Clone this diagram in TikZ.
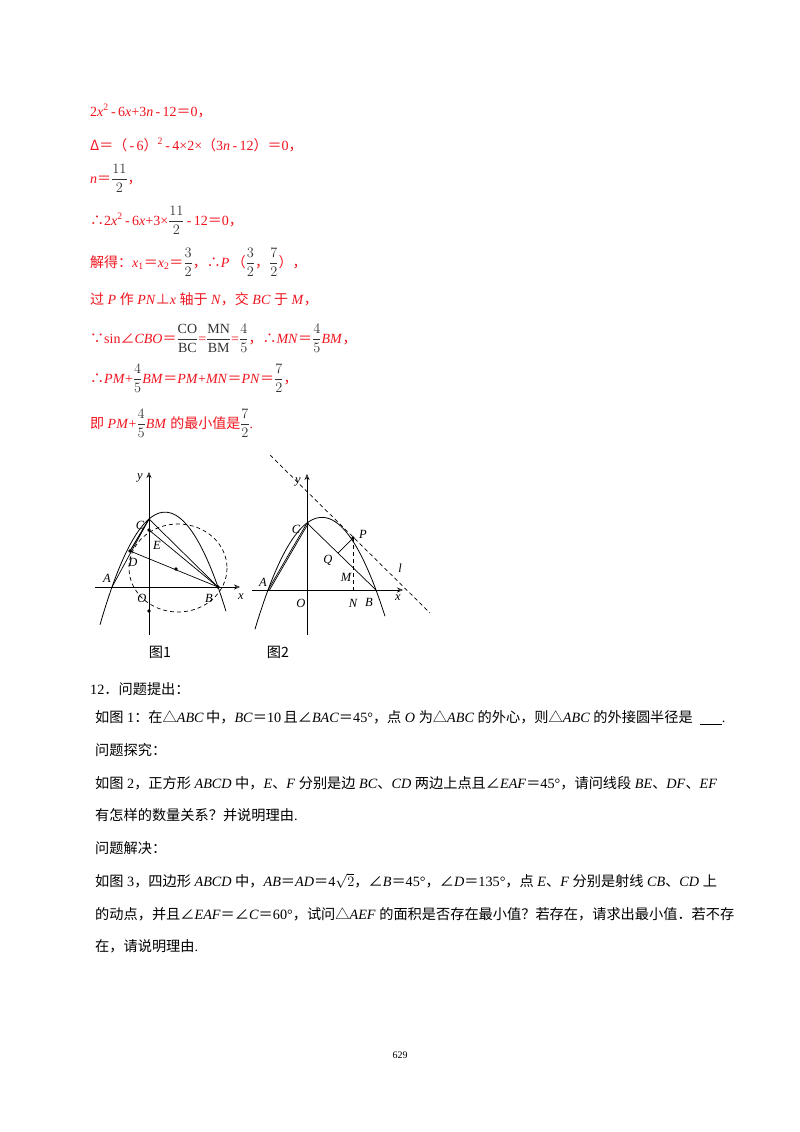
\documentclass[tikz,border=0pt]{standalone}
\usepackage{amsmath}
\usepackage{fontspec}
\setmainfont{Liberation Serif}
\newfontfamily\cjk{Noto Sans CJK SC}
\newcommand{\zh}[1]{{\cjk #1}}
\usetikzlibrary{arrows.meta}
\definecolor{rd}{RGB}{240,20,30}
\begin{document}
\begin{tikzpicture}[x=1pt,y=-1pt,
  txt/.style={anchor=base west,inner sep=0pt,font=\fontsize{14.2}{16}\selectfont},
  red/.style={anchor=base west,inner sep=0pt,font=\fontsize{14}{16}\selectfont,text=rd},
  lab/.style={inner sep=0pt,font=\fontsize{12.5}{14}\selectfont\itshape},
  ax/.style={line width=0.6pt,-{Stealth[length=6pt,width=5pt,open]}},
  cur/.style={line width=0.8pt},
  seg/.style={line width=0.7pt},
  dsh/.style={line width=0.7pt,dash pattern=on 4pt off 3pt},
  dot/.style={circle,fill,inner sep=1.4pt}]
\useasboundingbox (0,0) rectangle (800,1132);
\fill[white] (0,0) rectangle (800,1132);
% ---------- red solution text ----------
\node[red] (l1) at (90,116) {2\textit{x}\textsuperscript{2}\,-\,6\textit{x}+3\textit{n}\,-\,12\zh{＝}0\zh{，}};
\node[red] (l2) at (90,150) {\zh{Δ＝（}\,-\,6\zh{）}\textsuperscript{2}\,-\,4×2×\zh{（}3\textit{n}\,-\,12\zh{）＝}0\zh{，}};
\node[red] (l3) at (90,183) {\textit{n}\zh{＝}\textcolor{black!80}{$\dfrac{11}{2}$}\zh{，}};
\node[red] (l4) at (90,225) {\zh{∴}2\textit{x}\textsuperscript{2}\,-\,6\textit{x}+3×\textcolor{black!80}{$\dfrac{11}{2}$}\,-\,12\zh{＝}0\zh{，}};
\node[red] (l5) at (90,267) {\zh{解得：}\textit{x}\textsubscript{1}\zh{＝}\textit{x}\textsubscript{2}\zh{＝}\textcolor{black!80}{$\dfrac{3}{2}$}\zh{，∴}\textit{P}\,\zh{（}\textcolor{black!80}{$\dfrac{3}{2}$}\zh{，}\textcolor{black!80}{$\dfrac{7}{2}$}\zh{），}};
\node[red] (l6) at (90,304) {\zh{过} \textit{P} \zh{作} \textit{PN}\zh{⊥}\textit{x} \zh{轴于} \textit{N}\zh{，交} \textit{BC} \zh{于} \textit{M}\zh{，}};
\node[red] (l7) at (90,343) {\zh{∵}sin\zh{∠}\textit{CBO}\zh{＝}\textcolor{black!80}{$\dfrac{\mathrm{CO}}{\mathrm{BC}}$}=\textcolor{black!80}{$\dfrac{\mathrm{MN}}{\mathrm{BM}}$}=\textcolor{black!80}{$\dfrac{4}{5}$}\zh{，∴}\textit{MN}\zh{＝}\textcolor{black!80}{$\dfrac{4}{5}$}\textit{BM}\zh{，}};
\node[red] (l8) at (90,383) {\zh{∴}\textit{PM}+\textcolor{black!80}{$\dfrac{4}{5}$}\textit{BM}\zh{＝}\textit{PM}+\textit{MN}\zh{＝}\textit{PN}\zh{＝}\textcolor{black!80}{$\dfrac{7}{2}$}\zh{，}};
\node[red] (l9) at (90,428) {\zh{即} \textit{PM}+\textcolor{black!80}{$\dfrac{4}{5}$}\textit{BM} \zh{的最小值是}\textcolor{black!80}{$\dfrac{7}{2}$}.};
% ---------- figure 1 ----------
\coordinate (O1) at (149,587);
\coordinate (C1) at (149,519);
\coordinate (B1) at (218,587);
\coordinate (A1) at (112,587);
\coordinate (E1) at (149,530);
\coordinate (D1) at (130,551);
\coordinate (K1) at (176,569);
\coordinate (Y1) at (149,635);
\coordinate (Yt1) at (149,472);
\coordinate (X0) at (95,587);
\coordinate (Xt1) at (240,587);
\draw[ax] (X0) -- (Xt1);
\draw[ax] (Y1) -- (Yt1);
\draw[cur,domain=-49:77,samples=60] plot ({149+\x},{587+0.02664*(\x+37)*(\x-69)});
\draw[dsh] (178,568) ellipse [x radius=49,y radius=44];
\draw[seg] (C1) -- (B1);
\draw[seg] (E1) -- (B1);
\draw[seg] (D1) -- (B1);
\draw[seg,line width=1pt] (C1) -- (D1);
\draw[seg] (A1) -- (C1);
\node[dot] (dD) at (D1) {};
\node[dot] (dE) at (E1) {};
\node[dot] (dK) at (K1) {};
\node[dot] (dB) at (B1) {};
\node[dot] (dO) at (149,611) {};
\node[lab] (ly1) at (140,478) {y};
\node[lab] (lC1) at (140,525) {C};
\node[lab] (lE1) at (157,545) {E};
\node[lab] (lD1) at (133,562) {D};
\node[lab] (lA1) at (107,578) {A};
\node[lab] (lO1) at (142,598) {O};
\node[lab] (lB1) at (209,598) {B};
\node[lab] (lx1) at (241,597) {x};
\node[txt,anchor=center] (cap1) at (160,652) {\zh{图1}};
% ---------- figure 2 ----------
\coordinate (O2) at (307,590);
\coordinate (C2) at (307,523);
\coordinate (A2) at (268,590);
\coordinate (B2) at (376,590);
\coordinate (P2) at (353,538);
\coordinate (Q2) at (338,553);
\coordinate (M2) at (353,568);
\coordinate (N2) at (353,590);
\coordinate (X2) at (252,590);
\coordinate (Xt2) at (403,590);
\coordinate (Y2) at (307,635);
\coordinate (Yt2) at (307,474);
\coordinate (L1) at (270,455);
\coordinate (L2) at (430,613);
\draw[ax] (X2) -- (Xt2);
\draw[ax] (Y2) -- (Yt2);
\draw[cur,domain=-52:78,samples=60] plot ({307+\x},{590+0.0249*(\x+39)*(\x-69)});
\draw[dsh] (L1) -- (L2);
\draw[seg] (C2) -- (B2);
\draw[seg] (A2) -- (C2);
\draw[seg] ([xshift=1.5pt]A2) -- ([xshift=1.5pt]C2);
\draw[seg] (P2) -- (Q2);
\draw[dsh,line width=0.5pt] (P2) -- (N2);
\node[dot] (dP) at (P2) {};
\node[lab] (ly2) at (298,482) {y};
\node[lab] (lC2) at (296,529) {C};
\node[lab] (lP2) at (363,534) {P};
\node[lab] (lQ2) at (328,560) {Q};
\node[lab] (lM2) at (346,577) {M};
\node[lab] (lA2) at (263,582) {A};
\node[lab] (lO2) at (301,603) {O};
\node[lab] (lN2) at (353,603) {N};
\node[lab] (lB2) at (369,602) {B};
\node[lab] (lx2) at (398,598) {x};
\node[lab] (ll2) at (400,568) {l};
\node[txt,anchor=center] (cap2) at (278,652) {\zh{图2}};
% ---------- problem 12 ----------
\node[txt] (p1) at (90,694) {12\zh{．问题提出：}};
\node[txt] (p2) at (95,722) {\zh{如图} 1\zh{：在△}\textit{ABC}\,\zh{中，}\textit{BC}\zh{＝}10\,\zh{且∠}\textit{BAC}\zh{＝}45°\zh{，点} \textit{O} \zh{为△}\textit{ABC} \zh{的外心，则△}\textit{ABC} \zh{的外接圆半径是}\ \ \underline{\hspace{22pt}}.};
\node[txt] (p3) at (95,755) {\zh{问题探究：}};
\node[txt] (p4) at (95,788) {\zh{如图} 2\zh{，正方形} \textit{ABCD} \zh{中，}\textit{E}\zh{、}\textit{F} \zh{分别是边} \textit{BC}\zh{、}\textit{CD} \zh{两边上点且∠}\textit{EAF}\zh{＝}45°\zh{，请问线段} \textit{BE}\zh{、}\textit{DF}\zh{、}\textit{EF}};
\node[txt] (p5) at (95,820) {\zh{有怎样的数量关系？并说明理由}.};
\node[txt] (p6) at (95,853) {\zh{问题解决：}};
\node[txt] (p7) at (95,886) {\zh{如图} 3\zh{，四边形} \textit{ABCD} \zh{中，}\textit{AB}\zh{＝}\textit{AD}\zh{＝}4$\sqrt{2}$\zh{，∠}\textit{B}\zh{＝}45°\zh{，∠}\textit{D}\zh{＝}135°\zh{，点} \textit{E}\zh{、}\textit{F} \zh{分别是射线} \textit{CB}\zh{、}\textit{CD} \zh{上}};
\node[txt] (p8) at (95,919) {\zh{的动点，并且∠}\textit{EAF}\zh{＝∠}\textit{C}\zh{＝}60°\zh{，试问△}\textit{AEF} \zh{的面积是否存在最小值？若存在，请求出最小值．若不存}};
\node[txt] (p9) at (95,951) {\zh{在，请说明理由}.};
\node[txt,anchor=center,font=\fontsize{10}{12}\selectfont] (pg) at (400,1055) {629};
\end{tikzpicture}
\end{document}
